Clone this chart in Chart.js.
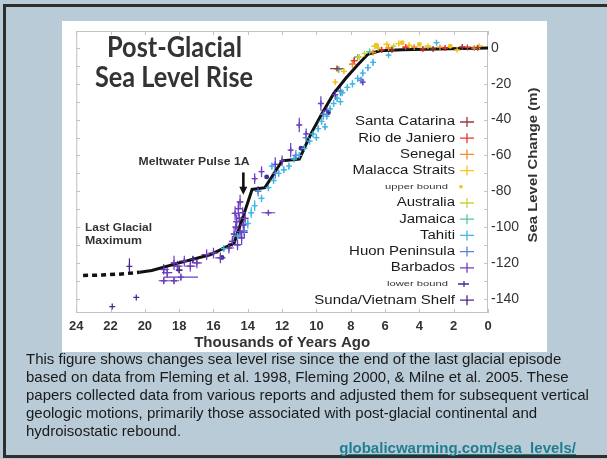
<!DOCTYPE html>
<html><head><meta charset="utf-8">
<script src="https://cdn.jsdelivr.net/npm/chart.js@4/dist/chart.umd.min.js"></script>
<style>
html,body{margin:0;padding:0;width:607px;height:459px;overflow:hidden;background:#b9cbd7;}
#frame{position:absolute;left:3px;top:4px;width:700px;height:448px;border-top:3px solid #2e2e2e;border-left:3px solid #2e2e2e;border-bottom:3px solid #2e2e2e;background:#b9cbd7;}
#chartBox{position:absolute;left:62px;top:21px;width:485px;height:331px;background:#fff;}
#caption{position:absolute;left:26px;top:350px;font:15px "Liberation Sans",Arial,sans-serif;line-height:18px;color:#1a1a1a;white-space:nowrap;}
#link{position:absolute;right:31px;top:439px;font:bold 15px "Liberation Sans",Arial,sans-serif;line-height:18px;color:#1f7f8f;text-decoration:underline;}
</style></head>
<body>
<div id="frame"></div>
<div id="chartBox"><canvas id="c" width="485" height="331"></canvas></div>
<div id="caption">This figure shows changes sea level rise since the end of the last glacial episode<br>based on data from Fleming et al. 1998, Fleming 2000, &amp; Milne et al. 2005. These<br>papers collected data from various reports and adjusted them for subsequent vertical<br>geologic motions, primarily those associated with post-glacial continental and<br>hydroisostatic rebound.</div>
<div id="link">globalicwarming.com/sea_levels/</div>
<script>
// ---- tick labels ----
const yTickValues = [-140, -120, -100, -80, -60, -40, -20, 0];
const xTickStep = 2;

// ---- black reference curve (kyr ago, metres) ----
const dashedCurve = [[23.6,-127],[22.5,-126.8],[21.5,-126.3],[20.3,-125.3]];
const solidCurve = [[20.3,-125.3],[19.6,-124.3],[18.0,-120],[16.2,-115.5],[14.8,-109],[14.2,-92],[13.75,-79],[13.0,-78],[12.0,-63],[11.0,-62],[10.3,-47.5],[9.7,-37],[9.0,-25.5],[8.3,-17],[7.6,-9.5],[7.0,-3.5],[6.3,-1.5],[5.0,-1],[3.0,-0.5],[0,0]];

// ---- series: [kyr ago, metres, x error, y error] ----
const santaCatarina = [[8.8,-11.5,0.4,1],[5.6,-1,0.3,1.5],[3.2,-0.5,0.2,1.2],[1.5,0.5,0.2,1],[0.6,0.2,0.2,1]];
const rioDeJaniero = [[7.8,-7,0.2,2],[6.2,-1,0.2,1.5],[4.8,0.5,0.2,1.5],[3.8,-0.5,0.2,1.5],[2.5,0,0.2,1.2],[1.2,0.3,0.2,1]];
const senegal = [[7.9,-9,0.2,2],[6.7,-2.5,0.2,1.5],[5.8,0,0.2,1.5],[4.3,0.5,0.2,1],[2.8,0.3,0.2,1],[0.8,0,0.2,1]];
const malaccaStraits = [[8.9,-19,0.1,1.5],[8.4,-13,0.1,1.5],[7.5,-5,0.1,1],[6.6,1,0.2,1.5],[5.9,2,0.2,1.5],[5.2,2.5,0.2,1.5],[4.6,1.5,0.2,1.5],[3.5,1,0.2,1],[1.8,-1,0.2,1],[0.5,1,0.2,1]];
const upperBound = [[6.5,1.5,0,0],[5.0,3,0,0],[4.0,2,0,0],[2.2,1,0,0]];
const australia = [[7.2,-3,0.1,1.5],[6.4,0,0.1,1.5],[5.5,1,0.1,1]];
const jamaica = [[8.7,-12,0.2,2],[7.6,-5,0.2,1.5],[6.9,-2,0.2,1.5]];
const tahiti = [[15.4,-112,0.1,2],[14.6,-105,0.1,2],[14.0,-98,0.1,3],[13.8,-92,0.1,3],[13.6,-88,0.1,3],[13.2,-84,0.1,2],[12.8,-78,0.1,2],[12.6,-66,0.1,2],[12.5,-74,0.1,2],[12.2,-70,0.1,2],[11.9,-68,0.1,2],[11.6,-66,0.1,2],[11.3,-62,0.1,2],[11.0,-60,0.1,2],[10.7,-56,0.1,2],[10.4,-52,0.1,2],[10.2,-48,0.1,2],[9.9,-45,0.1,2],[9.7,-41,0.1,2],[9.4,-38,0.1,2],[9.2,-34,0.1,2],[9.0,-31,0.1,2],[8.8,-28,0.1,2],[8.5,-25,0.1,2],[8.2,-22,0.1,2],[7.9,-20,0.1,2],[7.6,-17,0.1,2],[7.3,-14,0.1,2],[7.0,-11,0.1,2],[6.7,-8,0.1,2],[5.8,-4,0.1,1],[3.0,3,0.1,1.5],[10.0,-50,0.1,2],[9.5,-44,0.1,2],[8.6,-30,0.1,2]];
const huonPeninsula = [[14.2,-102,0.2,3],[13.4,-80,0.2,3],[12.4,-70,0.2,3],[11.2,-60,0.2,3],[10.6,-50,0.2,3],[9.6,-37,0.2,3],[8.6,-24,0.2,3],[7.4,-18,0.2,2]];
const barbados = [[18.9,-123.7,0.3,3],[18.9,-130,0.3,2],[18.3,-130,0.3,2],[17.9,-128,1.0,2],[18.3,-120,0.2,4],[17.7,-119,0.3,3],[17.35,-121.8,0.3,3],[16.97,-120,0.3,3],[16.4,-115.4,0.3,3],[16.0,-114.5,0.3,3],[15.6,-117.2,0.3,3],[15.1,-111.7,0.3,3],[18.7,-125.5,0.3,3],[18.1,-121.8,0.3,3],[14.65,-97,0.2,4],[14.45,-102.5,0.2,4],[14.8,-104,0.2,4],[14.55,-89.7,0.2,4],[14.26,-98.8,0.2,4],[14.36,-106,0.2,4],[14.74,-92.4,0.2,4],[14.16,-95.2,0.2,4],[14.45,-86,0.2,4],[14.9,-108,0.2,3],[14.6,-110,0.2,3],[14.3,-92,0.2,3],[14.7,-100,0.2,3],[14.5,-95,0.2,3],[14.2,-103,0.2,3],[13.6,-73,0.1,3],[13.2,-69,0.1,3],[12.8,-92,0.4,1],[12.4,-65,0.1,4],[12.0,-63,0.1,3],[11.5,-57,0.1,4],[11.0,-43,0.1,4],[10.6,-48,0.1,3],[9.74,-31,0.1,4],[9.4,-35,0.1,3],[8.9,-26,0.1,3],[7.3,-19,0.1,2]];
const lowerBound = [[15.5,-117,0,0],[12.9,-72,0,0],[10.9,-56,0,0],[9.3,-36,0,0]];
const sundaVietnamShelf = [[21.9,-144.4,0,0],[20.5,-139.3,0,0],[20.9,-122,0,4.5],[18.0,-124,0.2,2],[17.2,-118,0.2,2]];

const seriesNames = ['Santa Catarina','Rio de Janiero','Senegal','Malacca Straits','upper bound','Australia','Jamaica','Tahiti','Huon Peninsula','Barbados','lower bound','Sunda/Vietnam Shelf'];
const seriesData = [santaCatarina, rioDeJaniero, senegal, malaccaStraits, upperBound, australia, jamaica, tahiti, huonPeninsula, barbados, lowerBound, sundaVietnamShelf];
const seriesColors = ['#9b3a3a','#e8372c','#f28a2e','#f5c518','#f0c419','#c9d43c','#5cc39e','#3fb6e6','#5a82d8','#6a3fc0','#3b2f9e','#4b2a8c'];
const smallEntries = ['upper bound','lower bound'];

const FONT = "'Liberation Sans', Arial, sans-serif";
Chart.defaults.font.family = FONT;

function txt(ctx, s, x, y, font, color, align, sx, baseline) {
  ctx.save(); ctx.font = font; ctx.fillStyle = color; ctx.textAlign = align || 'left';
  ctx.textBaseline = baseline || 'middle'; ctx.translate(x, y); ctx.scale(sx || 1, 1);
  ctx.fillText(s, 0, 0); ctx.restore();
}
function fitTxt(ctx, s, x, y, font, color, align, w, baseline) {
  ctx.save(); ctx.font = font; const m = ctx.measureText(s).width; ctx.restore();
  txt(ctx, s, x, y, font, color, align, w / m, baseline);
}

const errorBars = {
  id: 'errorBars',
  beforeDatasetsDraw(chart) {
    const {ctx, scales: {x, y}} = chart;
    chart.data.datasets.forEach(ds => {
      if (!ds.errorBars) return;
      ctx.save(); ctx.strokeStyle = ds.borderColor; ctx.lineWidth = 1.2;
      ds.data.forEach(p => {
        const px = x.getPixelForValue(p.x), py = y.getPixelForValue(p.y);
        ctx.beginPath();
        if (p.xe) { ctx.moveTo(x.getPixelForValue(p.x - p.xe), py); ctx.lineTo(x.getPixelForValue(p.x + p.xe), py); }
        if (p.ye) { ctx.moveTo(px, y.getPixelForValue(p.y - p.ye)); ctx.lineTo(px, y.getPixelForValue(p.y + p.ye)); }
        ctx.stroke();
      });
      ctx.restore();
    });
  }
};

const frame = {
  id: 'frame',
  beforeDatasetsDraw(chart) {
    const {ctx, chartArea: a, scales: {x, y}} = chart;
    ctx.save(); ctx.strokeStyle = '#c2c2c2'; ctx.lineWidth = 1;
    ctx.strokeRect(a.left + 0.5, a.top + 0.5, a.right - a.left - 1, a.bottom - a.top - 1);
    ctx.beginPath();
    for (let v = 0; v <= 24; v += xTickStep) {
      const px = Math.round(x.getPixelForValue(v)) + 0.5;
      ctx.moveTo(px, a.top); ctx.lineTo(px, a.top + 4);
      ctx.moveTo(px, a.bottom); ctx.lineTo(px, a.bottom - 4);
    }
    for (let v = -140; v <= 0; v += 10) {
      const py = Math.round(y.getPixelForValue(v)) + 0.5;
      ctx.moveTo(a.left, py); ctx.lineTo(a.left + 4, py);
      ctx.moveTo(a.right, py); ctx.lineTo(a.right - 4, py);
    }
    ctx.stroke(); ctx.restore();
  }
};

const annotations = {
  id: 'annotations',
  afterDraw(chart) {
    const {ctx, chartArea: a, scales: {x, y}} = chart;
    // title
    fitTxt(ctx, 'Post-Glacial', 112.5, 36, "bold 28px Lato, sans-serif", '#333', 'center', 135, 'alphabetic');
    fitTxt(ctx, 'Sea Level Rise', 112, 66, "bold 28px Lato, sans-serif", '#333', 'center', 158, 'alphabetic');
    // Meltwater Pulse 1A + arrow
    fitTxt(ctx, 'Meltwater Pulse 1A', 132, 141, "bold 11px " + FONT, '#333', 'center', 111);
    const ax = x.getPixelForValue(14.26), ay1 = y.getPixelForValue(-69.5), ay2 = y.getPixelForValue(-82);
    ctx.save(); ctx.strokeStyle = '#111'; ctx.fillStyle = '#111'; ctx.lineWidth = 2.6;
    ctx.beginPath(); ctx.moveTo(ax, ay1); ctx.lineTo(ax, ay2 - 7); ctx.stroke();
    ctx.beginPath(); ctx.moveTo(ax - 4, ay2 - 8); ctx.lineTo(ax + 4, ay2 - 8); ctx.lineTo(ax, ay2); ctx.closePath(); ctx.fill();
    ctx.restore();
    // Last Glacial Maximum
    fitTxt(ctx, 'Last Glacial', 23, 206.5, "bold 11px " + FONT, '#333', 'left', 67);
    fitTxt(ctx, 'Maximum', 23, 220, "bold 11px " + FONT, '#333', 'left', 57);
    // y axis title (reads bottom to top)
    ctx.save(); ctx.translate(471, 144); ctx.rotate(-Math.PI / 2);
    fitTxt(ctx, 'Sea Level Change (m)', 0, 0, "bold 13px " + FONT, '#333', 'center', 155);
    ctx.restore();
    // legend
    seriesNames.forEach((name, i) => {
      const ly = a.top + 91 + i * 16.2;
      const col = seriesColors[i];
      const small = smallEntries.includes(name);
      ctx.save(); ctx.strokeStyle = col; ctx.fillStyle = col; ctx.lineWidth = 1.3;
      if (small) {
        txt(ctx, name, a.right - 40, ly, "8px " + FONT, '#333', 'right', 1.4);
        if (name === 'upper bound') {
          ctx.beginPath(); ctx.arc(a.right - 27, ly, 1.8, 0, Math.PI * 2); ctx.fill();
        } else {
          ctx.beginPath(); ctx.moveTo(a.right - 30, ly); ctx.lineTo(a.right - 19, ly);
          ctx.moveTo(a.right - 24, ly - 3); ctx.lineTo(a.right - 24, ly + 3); ctx.stroke();
        }
      } else {
        txt(ctx, name, a.right - 33, ly, "12.5px " + FONT, '#1a1a1a', 'right', 1.2);
        ctx.beginPath(); ctx.moveTo(a.right - 28, ly); ctx.lineTo(a.right - 14, ly);
        ctx.moveTo(a.right - 21, ly - 5); ctx.lineTo(a.right - 21, ly + 5); ctx.stroke();
      }
      ctx.restore();
    });
  }
};

const toPts = arr => arr.map(p => ({x: p[0], y: p[1], xe: p[2], ye: p[3]}));
const datasets = seriesNames.map((name, i) => ({
  type: 'scatter', label: name, data: toPts(seriesData[i]), errorBars: true,
  borderColor: seriesColors[i], backgroundColor: seriesColors[i],
  pointStyle: smallEntries.includes(name) ? 'circle' : 'cross',
  pointRadius: smallEntries.includes(name) ? 1.8 : 3, borderWidth: 1.3
}));
datasets.push({type: 'line', label: 'curve-dashed', data: dashedCurve.map(p => ({x: p[0], y: p[1]})),
  borderColor: '#111', borderWidth: 3.5, borderDash: [5, 4], pointRadius: 0, tension: 0});
datasets.push({type: 'line', label: 'curve', data: solidCurve.map(p => ({x: p[0], y: p[1]})),
  borderColor: '#111', borderWidth: 3, pointRadius: 0, tension: 0});

new Chart(document.getElementById('c'), {
  type: 'scatter',
  data: {datasets},
  options: {
    responsive: false, devicePixelRatio: 1, animation: false,
    layout: {padding: {left: 12, top: 6, right: 0, bottom: 0}},
    plugins: {legend: {display: false}, tooltip: {enabled: false}},
    scales: {
      x: {
        type: 'linear', reverse: true, min: 0, max: 24, position: 'bottom',
        ticks: {stepSize: xTickStep, padding: 7, color: '#333', font: {size: 13, weight: 'bold', lineHeight: 1}, maxRotation: 0, autoSkip: false},
        grid: {display: false, drawTicks: false}, border: {display: false},
        title: {display: true, text: 'Thousands of Years Ago', color: '#333', font: {size: 15, weight: 'bold', lineHeight: 1}, padding: {top: 0, bottom: 1.5}},
        afterFit(s) { s.height = 39; }
      },
      y: {
        type: 'linear', position: 'right', min: -148, max: 9.5,
        afterBuildTicks(s) { s.ticks = yTickValues.map(v => ({value: v})); },
        ticks: {padding: 3, color: '#333', font: {size: 14, lineHeight: 1}},
        grid: {display: false, drawTicks: false}, border: {display: false},
        afterFit(s) { s.width = 59; }
      }
    }
  },
  plugins: [errorBars, frame, annotations]
});
</script>
</body></html>
